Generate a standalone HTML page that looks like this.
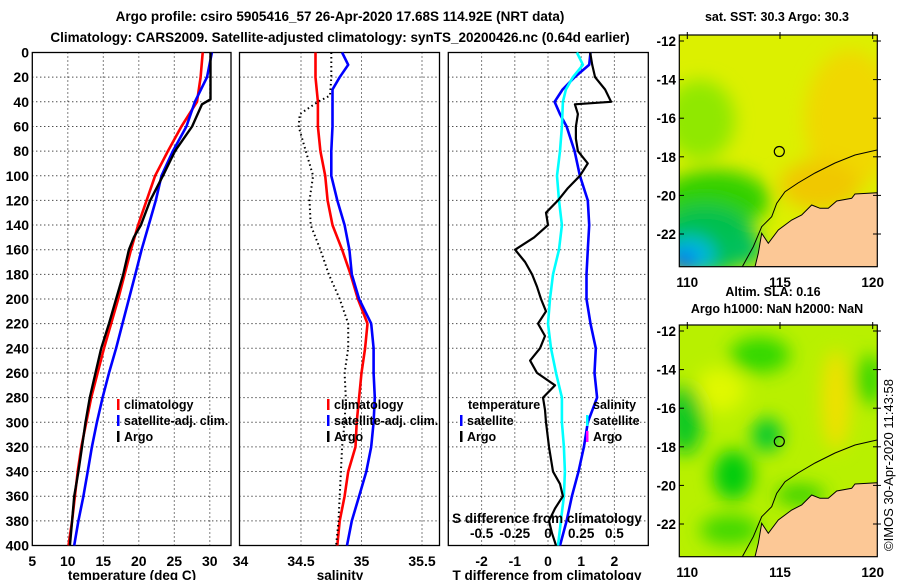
<!DOCTYPE html>
<html><head><meta charset="utf-8"><style>
html,body{margin:0;padding:0;background:#fff;}
svg{display:block;font-family:"Liberation Sans",sans-serif;}
.t{font-weight:bold;font-size:13.5px;}
.tk{font-weight:bold;font-size:12.5px;}
.tb{font-weight:bold;font-size:14px;}
.tm{font-weight:bold;font-size:13.5px;}
</style></head><body>
<svg id="chart" width="900" height="580" viewBox="0 0 900 580">
<defs>
<clipPath id="c1"><rect x="679.3" y="35" width="198" height="231.7"/></clipPath>
<clipPath id="c2"><rect x="679.3" y="325" width="198" height="231.7"/></clipPath>
<filter id="bl" x="-50%" y="-50%" width="200%" height="200%"><feGaussianBlur stdDeviation="9"/></filter>
</defs>
<text x="340" y="21" text-anchor="middle" class="t">Argo profile: csiro 5905416_57 26-Apr-2020 17.68S 114.92E (NRT data)</text>
<text x="340" y="42" text-anchor="middle" class="t">Climatology: CARS2009. Satellite-adjusted climatology: synTS_20200426.nc (0.64d earlier)</text>
<g id="grid"></g>
<g id="marks"></g>
<g id="labels"></g>

<g class="tk">
<rect x="117" y="399" width="2.5" height="11" fill="#f00"/><text x="124" y="409">climatology</text>
<rect x="117" y="415" width="2.5" height="11" fill="#00f"/><text x="124" y="425">satellite-adj. clim.</text>
<rect x="117" y="431" width="2.5" height="11" fill="#000"/><text x="124" y="441">Argo</text>
</g>
<g class="tk">
<rect x="327" y="399" width="2.5" height="11" fill="#f00"/><text x="334" y="409">climatology</text>
<rect x="327" y="415" width="2.5" height="11" fill="#00f"/><text x="334" y="425">satellite-adj. clim.</text>
<rect x="327" y="431" width="2.5" height="11" fill="#000"/><text x="334" y="441">Argo</text>
</g>
<g class="tk">
<text x="468" y="409">temperature</text>
<rect x="460" y="415" width="2.5" height="11" fill="#00f"/><text x="467" y="425">satellite</text>
<rect x="460" y="431" width="2.5" height="11" fill="#000"/><text x="467" y="441">Argo</text>
<text x="593" y="409">salinity</text>
<rect x="586" y="415" width="2.5" height="11" fill="#0ff"/><text x="593" y="425">satellite</text>
<rect x="586" y="431" width="2.5" height="11" fill="#f0f"/><text x="593" y="441">Argo</text>
</g>

<text x="777" y="21" text-anchor="middle" class="tk">sat. SST: 30.3 Argo: 30.3</text>
<g clip-path="url(#c1)">
<rect x="679" y="35" width="199" height="232" fill="#dcf000"/>
<g filter="url(#bl)">
<ellipse cx="850" cy="120" rx="45" ry="70" fill="#f0d800"/>
<ellipse cx="820" cy="185" rx="40" ry="25" fill="#f0c800"/>
<ellipse cx="700" cy="120" rx="35" ry="40" fill="#90e800"/>
<ellipse cx="715" cy="200" rx="55" ry="30" fill="#30d000"/>
<ellipse cx="705" cy="240" rx="50" ry="35" fill="#00c050"/>
<ellipse cx="690" cy="255" rx="25" ry="18" fill="#00b8e0"/>
<ellipse cx="683" cy="262" rx="12" ry="10" fill="#0050f0"/>
<ellipse cx="745" cy="250" rx="18" ry="15" fill="#00c060"/>
</g>
<polygon points="877.3,192.7 855,194 851.7,198.3 836.7,201 828.3,208.3 820,208.3 811.7,205 801.7,215 791.7,220 778.3,230 768.3,243.3 761.7,233.3 758.3,253.3 755,266.7 878,267" fill="#fcc896" stroke="#000" stroke-width="1"/>
<polyline points="877,150 855,155 835,163 815,173 798,183 785,191.7 776.7,203.3 771.7,216.7 761.7,226.7 753.3,246.7 742.3,266.7" fill="none" stroke="#000" stroke-width="1"/>
<circle cx="779.3" cy="151.5" r="5" fill="none" stroke="#000" stroke-width="1.2"/>
</g>
<rect x="679.3" y="35" width="198" height="231.7" fill="none" stroke="#000" stroke-width="1.2"/>

<text x="773" y="296" text-anchor="middle" class="tk">Altim. SLA: 0.16</text>
<text x="777" y="313" text-anchor="middle" class="tk">Argo h1000: NaN h2000: NaN</text>
<g clip-path="url(#c2)">
<rect x="679" y="325" width="199" height="232" fill="#b8f000"/>
<g filter="url(#bl)">
<ellipse cx="720" cy="390" rx="25" ry="22" fill="#e0f800"/>
<ellipse cx="836" cy="400" rx="14" ry="50" fill="#f0e000"/>
<ellipse cx="767" cy="435" rx="15" ry="17" fill="#00c830"/>
<ellipse cx="733" cy="475" rx="20" ry="25" fill="#00cc10"/>
<ellipse cx="685" cy="420" rx="18" ry="35" fill="#10c820"/>
<ellipse cx="760" cy="355" rx="30" ry="18" fill="#30d800"/>
<ellipse cx="870" cy="380" rx="15" ry="25" fill="#40d800"/>
<ellipse cx="730" cy="530" rx="30" ry="15" fill="#40d800"/>
<ellipse cx="800" cy="495" rx="25" ry="10" fill="#30d000"/>
</g>
<polygon points="877.3,482.7 855,484 851.7,488.3 836.7,491 828.3,498.3 820,498.3 811.7,495 801.7,505 791.7,510 778.3,520 768.3,533.3 761.7,523.3 758.3,543.3 755,556.7 878,557" fill="#fcc896" stroke="#000" stroke-width="1"/>
<polyline points="877,440 855,445 835,453 815,463 798,473 785,481.7 776.7,493.3 771.7,506.7 761.7,516.7 753.3,536.7 742.3,556.7" fill="none" stroke="#000" stroke-width="1"/>
<circle cx="779.3" cy="441.5" r="5" fill="none" stroke="#000" stroke-width="1.2"/>
</g>
<rect x="679.3" y="325" width="198" height="231.7" fill="none" stroke="#000" stroke-width="1.2"/>
<g id="maplabels" class="tm"></g>
<text transform="translate(893,465) rotate(-90)" text-anchor="middle" font-size="13">©IMOS 30-Apr-2020 11:43:58</text>
</svg>
<script>
const depthClimT = [0,20,40,60,80,100,120,140,160,180,200,220,240,260,280,300,320,340,360,380,400];
const tempClim = [29.0,28.7,28.2,26.0,24.1,22.3,21.1,19.9,18.9,18.0,17.1,16.1,15.1,14.2,13.3,12.6,11.9,11.4,11.0,10.6,10.1];
const tempSat = [30.3,29.6,27.9,26.7,24.8,23.2,22.4,21.4,20.4,19.5,18.6,17.7,16.8,15.8,14.9,14.1,13.4,12.8,12.2,11.5,10.9];
const depthArgoT = [0,20,38,42,60,80,100,120,140,150,160,180,200,220,240,260,280,300,320,340,350,360,380,400];
const tempArgo = [30.1,30.1,30.1,28.9,27.5,25.1,23.4,21.6,20.3,19.3,18.6,17.8,16.8,15.8,14.7,13.9,13.1,12.5,12.0,11.5,11.2,10.9,10.6,10.3];
const salClim = [34.62,34.62,34.64,34.64,34.66,34.70,34.72,34.76,34.84,34.91,34.97,35.05,35.03,35.00,34.98,34.96,34.95,34.89,34.86,34.82,34.80];
const depthSatS = [0,10,20,30,40,60,80,100,120,140,160,180,200,220,240,260,280,300,320,340,360,380,400];
const salSat = [34.84,34.89,34.82,34.76,34.76,34.76,34.75,34.75,34.80,34.86,34.90,34.92,34.98,35.08,35.10,35.10,35.11,35.10,35.08,35.04,34.98,34.92,34.88];
const depthArgoS = [0,20,35,40,50,60,80,100,120,140,160,180,200,220,240,260,280,300,320,340,360,380,400];
const salArgo = [34.75,34.75,34.74,34.64,34.49,34.48,34.54,34.60,34.57,34.58,34.66,34.73,34.82,34.89,34.89,34.86,34.87,34.86,34.84,34.83,34.82,34.81,34.79];
const depthDiffArgo = [0,10,20,30,40,42,50,60,70,80,90,100,110,120,130,140,150,160,170,180,190,200,210,220,230,240,250,260,270,280,290,300,320,340,350,360,370,380,390,400];
const tDiffArgo = [1.27,1.33,1.42,1.72,1.90,0.81,0.90,0.84,0.84,0.90,1.20,0.96,0.60,0.30,-0.06,0,-0.42,-0.99,-0.69,-0.48,-0.33,-0.21,-0.06,-0.30,-0.09,-0.24,-0.54,-0.33,0.21,-0.15,-0.09,-0.06,0.03,0.15,0.36,0.45,0.21,0.03,0.12,0.24];
const depthDiffT = [0,10,20,30,40,60,80,100,120,140,160,180,200,220,240,260,280,300,320,340,360,380,400];
const tDiffSat = [0.87,1.05,0.75,0.54,0.45,0.42,0.36,0.27,0.33,0.42,0.33,0.15,0.06,0,0.09,0.24,0.42,0.42,0.48,0.51,0.48,0.39,0.30];
const depthDiffS = [0,10,20,30,40,50,60,80,100,120,140,160,180,200,220,240,260,280,300,320,340,360,380,400];
const sDiffSat = [0.32,0.31,0.20,0.11,0.05,0.09,0.14,0.20,0.24,0.30,0.31,0.30,0.29,0.29,0.32,0.36,0.35,0.37,0.30,0.27,0.23,0.18,0.14,0.09];
const depthTicks = [0,20,40,60,80,100,120,140,160,180,200,220,240,260,280,300,320,340,360,380,400];
const tempTicks = [5,10,15,20,25,30];
const tempGrid = [10,15,20,25,30];
const salTicks = [34,34.5,35,35.5];
const salTickLabels = ['34','34.5','35','35.5'];
const tdTicks = [-2,-1,0,1,2];
const sdTicks = [-0.5,-0.25,0,0.25,0.5];
const sdTickLabels = ['-0.5','-0.25','0','0.25','0.5'];
const lonTicks = [110,115,120];
const latTicks = [-12,-14,-16,-18,-20,-22];

const NS='http://www.w3.org/2000/svg';
const Y0=52.5, Y1=545.5;
const yD = d => Y0 + d*(Y1-Y0)/400;
const xT = t => 32.3 + (t-5)*7.1;
const xS = s => 240.5 + (s-34)*121;
const xTD = t => 548 + t*33.2;
const xSD = s => 548 + s*132.8;
const lonX = l => 687.3 + (l-110)*18.54;
const latY = (l,off) => off + 41 + (-12-l)*19.3;
const panels = [[32.3,231],[239.5,439.5],[448.3,648.3]];

function mk(tag, attrs, parent){const e=document.createElementNS(NS,tag);for(const k in attrs)e.setAttribute(k,attrs[k]);parent.appendChild(e);return e;}
const grid=document.getElementById('grid'), marks=document.getElementById('marks'), labels=document.getElementById('labels');

panels.forEach((p,i)=>{
  depthTicks.slice(1,-1).forEach(d=>{
    const l=mk('line',{x1:p[0],x2:p[1],y1:yD(d),y2:yD(d),stroke:'#000','stroke-width':1,'stroke-dasharray':'1,3'},grid);
    
    
  });
});
function vgrid(vals,fx){vals.forEach(v=>{const l=mk('line',{x1:fx(v),x2:fx(v),y1:Y0,y2:Y1,stroke:'#000','stroke-width':1,'stroke-dasharray':'1,3'},grid);
  
  });}
vgrid(tempGrid,xT); vgrid(salTicks.slice(1),xS); vgrid(tdTicks,xTD);
panels.forEach(p=>{const r=mk('rect',{x:p[0],y:Y0,width:p[1]-p[0],height:Y1-Y0,fill:'none',stroke:'#000','stroke-width':1.3},grid);
  
  });

function line(ds,vs,fx,color,w,name,dash){
  const pts=ds.map((d,i)=>fx(vs[i]).toFixed(1)+','+yD(d).toFixed(1)).join(' ');
  const a={points:pts,fill:'none',stroke:color,'stroke-width':w,'stroke-linejoin':'round'};
  if(dash)a['stroke-dasharray']=dash;
  const e=mk('polyline',a,marks);
  
  
}
line(depthClimT,tempClim,xT,'#f00',2.6,'temp-climatology-line');
line(depthClimT,tempSat,xT,'#00f',2.6,'temp-satellite-line');
line(depthArgoT,tempArgo,xT,'#000',2.4,'temp-argo-line');
line(depthClimT,salClim,xS,'#f00',2.6,'sal-climatology-line');
line(depthSatS,salSat,xS,'#00f',2.6,'sal-satellite-line');
line(depthArgoS,salArgo,xS,'#000',2,'sal-argo-line','1.5,3');
line(depthDiffS,sDiffSat,xSD,'#00f',2.6,'sdiff-satellite-line');
line(depthDiffT,tDiffSat,xTD,'#0ff',2.6,'tdiff-satellite-line');
line(depthDiffArgo,tDiffArgo,xTD,'#000',2.2,'tdiff-argo-line');

function txt(x,y,s,anchor,cls,name,parent){const e=mk('text',{x:x,y:y,'text-anchor':anchor,class:cls},parent||labels);e.textContent=s;
  
  return e;}
depthTicks.forEach(d=>txt(29,yD(d)+5,String(d),'end','tb','depth-tick-label'));
tempTicks.forEach(t=>txt(xT(t),566,String(t),'middle','tb','temp-tick-label'));
salTicks.forEach((s,i)=>txt(xS(s),566,salTickLabels[i],'middle','tb','sal-tick-label'));
tdTicks.forEach(t=>txt(xTD(t),566,String(t),'middle','tb','tdiff-tick-label'));
sdTicks.forEach((s,i)=>txt(xSD(s),538,sdTickLabels[i],'middle','tm','sdiff-tick-label'));
txt(547,523,'S difference from climatology','middle','tm','sdiff-axis-title');
txt(132,580,'temperature (deg C)','middle','tm','temp-axis-title');
txt(340,580,'salinity','middle','tm','sal-axis-title');
txt(547,580,'T difference from climatology','middle','tm','tdiff-axis-title');

const ml=document.getElementById('maplabels');
[0,290].forEach(off=>{
  latTicks.forEach(l=>{txt(676,latY(l,off)+5,String(l),'end','tm','map-lat-label',ml);
    const t1=mk('line',{x1:679.3,x2:684,y1:latY(l,off),y2:latY(l,off),stroke:'#000'},ml);
    
    
    const t2=mk('line',{x1:873,x2:881,y1:latY(l,off),y2:latY(l,off),stroke:'#000'},ml);
    
    });
  lonTicks.forEach(l=>{const t=mk('line',{x1:lonX(l),x2:lonX(l),y1:off+32,y2:off+39,stroke:'#000'},ml);
    
    });
});
lonTicks.forEach(l=>{txt(lonX(l),287,String(l),'middle','tm','map-lon-label',ml);txt(lonX(l),577,String(l),'middle','tm','map-lon-label',ml);});
</script>
</body></html>
